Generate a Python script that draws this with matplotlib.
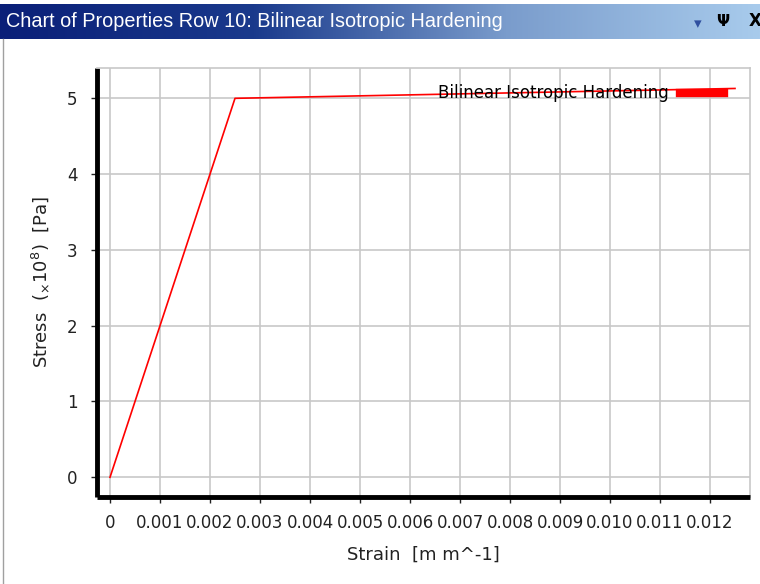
import numpy as np
import matplotlib
matplotlib.use("Agg")
import matplotlib.pyplot as plt
from matplotlib.colors import LinearSegmentedColormap

# bilinear isotropic hardening curve
strain = [0.0, 0.0025, 0.0125]
stress = [0.0, 5.0e8, 5.13e8]
xticks = [0, 0.001, 0.002, 0.003, 0.004, 0.005, 0.006, 0.007, 0.008, 0.009, 0.010, 0.011, 0.012]
xticklabels = ["0", "0.001", "0.002", "0.003", "0.004", "0.005", "0.006",
               "0.007", "0.008", "0.009", "0.010", "0.011", "0.012"]
yticks = [0, 1, 2, 3, 4, 5]
series_name = "Bilinear Isotropic Hardening"
window_title = "Chart of Properties Row 10: Bilinear Isotropic Hardening"

W, H = 760, 584
fig = plt.figure(figsize=(W/100, H/100), dpi=100)
fig.patch.set_facecolor("white")

# title bar (gradient like an old windows panel)
tb = fig.add_axes([0, 1-39/H, 1, 35/H])
grad = np.linspace(0, 1, 256).reshape(1, -1)
cm = LinearSegmentedColormap.from_list("tb", ["#0a1f78", "#1a3a8c", "#7a9ccc", "#a8cbec"])
tb.imshow(grad, aspect="auto", cmap=cm, extent=[0, 1, 0, 1])
tb.set_axis_off()
tb.text(0.008, 0.5, window_title, color="white", fontsize=14.3, va="center",
        ha="left", family="Liberation Sans", transform=tb.transAxes)
tb.text(0.918, 0.45, "\u25BE", color="#3050a0", fontsize=11, va="center", ha="center", transform=tb.transAxes)
tb.text(0.951, 0.5, "\u03A8", color="black", fontsize=11, va="center", ha="center",
        fontweight="bold", transform=tb.transAxes)
tb.text(0.993, 0.5, "X", color="black", fontsize=12, va="center", ha="center",
        fontweight="bold", transform=tb.transAxes)

# left window border
fig.add_artist(plt.Line2D([3/W, 3/W], [0, 1-39/H], color="#a0a0a0", lw=1))

ax = fig.add_axes([97/W, 87/H, 653/W, 429/H])
ax.plot(strain, np.array(stress)/1e8, color="red", lw=1.2, label=series_name)
ax.set_xlim(-0.00026, 0.0128)
ax.set_ylim(-0.26, 5.4)
ax.set_xticks(xticks)
ax.set_xticklabels(xticklabels)
ax.set_yticks(yticks)
ax.grid(True, color="#c8c8c8", lw=1.2)
ax.set_axisbelow(True)
for s in ["left", "bottom"]:
    ax.spines[s].set_linewidth(3.5)
    ax.spines[s].set_color("black")
    ax.spines[s].set_capstyle("butt")
for s in ["top", "right"]:
    ax.spines[s].set_linewidth(1.2)
    ax.spines[s].set_color("#c8c8c8")
ax.tick_params(axis="both", direction="out", length=4, width=1, labelsize=12, colors="#222222")
ax.tick_params(axis="x", pad=8)
ax.tick_params(axis="y", pad=10)

ax.set_xlabel("Strain  [m m^-1]", fontsize=13, color="#222222", labelpad=10)
ax.set_ylabel(r"Stress  ($_{\times}$10$^{8}$)  [Pa]", fontsize=13, color="#222222", labelpad=11)

leg = ax.legend(loc="upper right", frameon=False, fontsize=12, handlelength=2.6,
                handletextpad=0.7, borderaxespad=0.2, markerfirst=False,
                bbox_to_anchor=(0.975, 0.985))
for h in leg.legend_handles:
    h.set_linewidth(6)

fig.savefig("out.png", dpi=100)
